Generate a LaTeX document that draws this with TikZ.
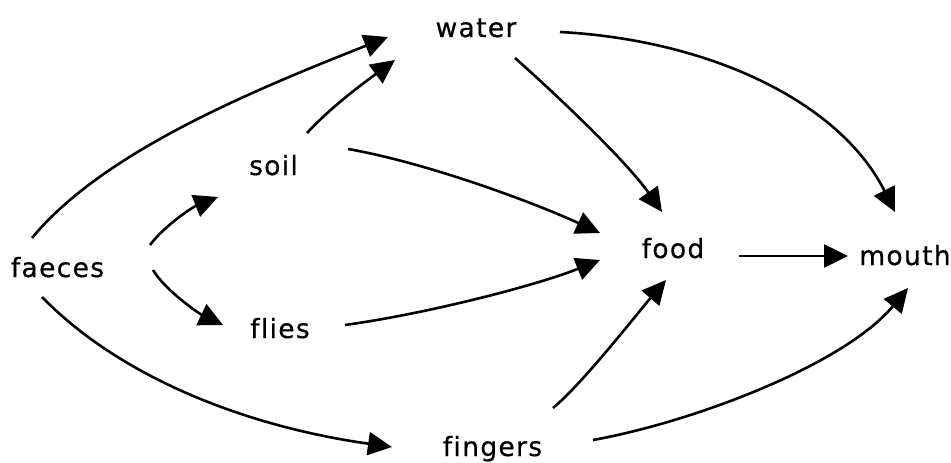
\documentclass[tikz,border=0pt]{standalone}
\usepackage{fontspec}
\newfontfamily\lblfont{DejaVu Sans}[LetterSpace=5,Ligatures=NoCommon,FakeBold=0.6]
\usetikzlibrary{arrows.meta,calc}
\tikzset{
  lbl/.style={anchor=base, inner sep=0pt, font=\lblfont\fontsize{26.5}{30}\selectfont},
  arr/.style={line width=2.6pt, -{Triangle[length=24pt,width=23pt]}}
}
\begin{document}
\begin{tikzpicture}[x=1pt,y=-1pt]
\fill[white] (0,0) rectangle (951,463);
\useasboundingbox (0,0) rectangle (951,463);
\node[lbl] (water) at (476,37) {water};
\node[lbl] (soil) at (273.5,175) {soil};
\node[lbl] (faeces) at (57.5,277) {faeces};
\node[lbl] (flies) at (280,338) {flies};
\node[lbl] (food) at (673,258) {food};
\node[lbl] (mouth) at (905,265) {mouth};
\node[lbl] (fingers) at (492.5,456) {fingers};
% faeces -> water
\draw[arr] ($(faeces.base)+(-25.5,-39)$) .. controls +(70,-85) and +(-139,55) .. ($(water.base)+(-88,0)$);
% soil -> water
\draw[arr] ($(soil.base)+(33.5,-42)$) .. controls +(25,-27) and +(-30,22) .. ($(water.base)+(-81,23)$);
% faeces -> soil
\draw[arr] ($(faeces.base)+(92.5,-32)$) .. controls +(15,-20) and +(-25,10) .. ($(soil.base)+(-55.5,22)$);
% faeces -> flies
\draw[arr] ($(faeces.base)+(95.5,-7)$) .. controls +(12,20) and +(-25,-12) .. ($(flies.base)+(-57,-13)$);
% faeces -> fingers
\draw[arr] ($(faeces.base)+(-15.5,20)$) .. controls +(77,79) and +(-149,-21) .. ($(fingers.base)+(-100.5,-9)$);
% soil -> food
\draw[arr] ($(soil.base)+(74.5,-26)$) .. controls +(80,14) and +(-65,-30) .. ($(food.base)+(-73,-25)$);
% flies -> food
\draw[arr] ($(flies.base)+(65,-13)$) .. controls +(80,-11) and +(-65,26) .. ($(food.base)+(-73,2)$);
% water -> food
\draw[arr] ($(water.base)+(39,21)$) .. controls +(45,40) and +(-35,-50) .. ($(food.base)+(-11,-46)$);
% water -> mouth
\draw[arr] ($(water.base)+(84,-5)$) .. controls +(150,8) and +(-55,-110) .. ($(mouth.base)+(-10,-53)$);
% food -> mouth
\draw[arr] ($(food.base)+(66,-2)$) -- ($(mouth.base)+(-57,-9)$);
% fingers -> food
\draw[arr] ($(fingers.base)+(60.5,-48)$) .. controls +(30,-25) and +(-30,35) .. ($(food.base)+(-7,22)$);
% fingers -> mouth
\draw[arr] ($(fingers.base)+(100.5,-16)$) .. controls +(100,-18) and +(-64,77) .. ($(mouth.base)+(3,23)$);
\end{tikzpicture}
\end{document}
